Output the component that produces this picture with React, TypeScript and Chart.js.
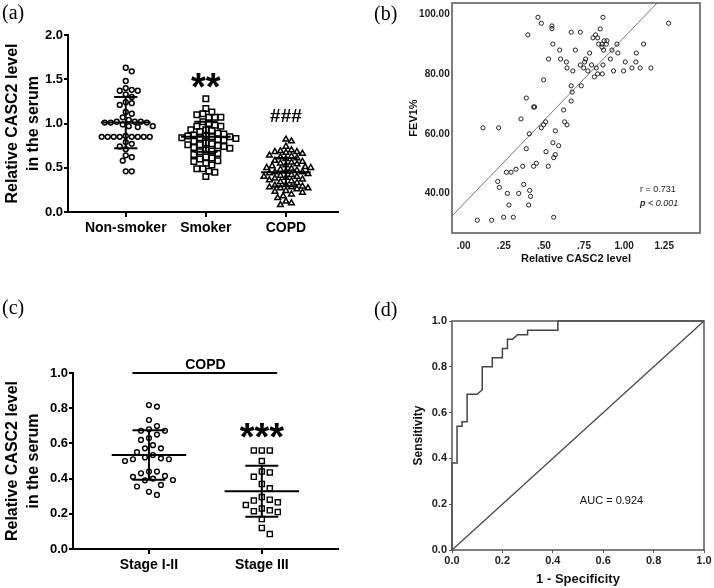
import React, { useEffect, useRef } from 'react';
import { Chart, registerables } from 'chart.js';
Chart.register(...registerables);

const FONT = '"Liberation Sans", Arial, Helvetica, sans-serif';

// ---------- Panel (a) ----------
const aCategories = ['Non-smoker', 'Smoker', 'COPD'];
const aNonSmoker = [1.63, 1.59, 1.48, 1.40, 1.37, 1.37, 1.38, 1.33, 1.30, 1.24, 1.23, 1.21, 1.13, 1.11, 1.07, 1.04, 1.02, 1.02, 1.01, 1.01, 1.01, 1.02, 0.99, 0.97, 0.96, 0.97, 0.86, 0.85, 0.85, 0.85, 0.85, 0.85, 0.85, 0.85, 0.85, 0.79, 0.77, 0.74, 0.71, 0.64, 0.62, 0.58, 0.46, 0.46];
const aSmoker = [1.28, 1.17, 1.13, 1.11, 1.10, 1.07, 1.07, 1.07, 1.02, 1.00, 0.98, 0.97, 0.97, 0.93, 0.93, 0.92, 0.91, 0.89, 0.88, 0.87, 0.86, 0.86, 0.85, 0.85, 0.84, 0.84, 0.83, 0.82, 0.81, 0.80, 0.78, 0.77, 0.76, 0.76, 0.75, 0.74, 0.73, 0.72, 0.70, 0.69, 0.68, 0.66, 0.65, 0.62, 0.61, 0.60, 0.58, 0.57, 0.55, 0.53, 0.49, 0.49, 0.46, 0.45, 0.40];
const aCOPD = [0.82, 0.80, 0.74, 0.70, 0.69, 0.68, 0.68, 0.67, 0.66, 0.64, 0.63, 0.62, 0.61, 0.60, 0.58, 0.57, 0.56, 0.55, 0.54, 0.53, 0.52, 0.51, 0.50, 0.50, 0.49, 0.48, 0.47, 0.46, 0.45, 0.45, 0.44, 0.43, 0.42, 0.41, 0.40, 0.40, 0.39, 0.38, 0.37, 0.36, 0.35, 0.34, 0.33, 0.31, 0.30, 0.29, 0.28, 0.28, 0.27, 0.27, 0.26, 0.24, 0.23, 0.22, 0.20, 0.18, 0.16, 0.12, 0.10, 0.08];
const aMeans = [1.01, 0.85, 0.45];
const aSDs = [0.29, 0.17, 0.16];
const aYTicks = [0, 0.5, 1.0, 1.5, 2.0];
const aMarks = ['', '**', '###'];
const aMarkValues = [0, 1.26, 1.02];

// ---------- Panel (b) ----------
const bCASC2 = [0.463,0.484,0.55,0.55,0.40,0.67,0.727,0.868,0.851,0.822,0.806,0.835,0.556,0.598,0.696,0.785,0.841,0.862,0.876,0.893,0.889,0.872,0.862,0.924,0.955,0.961,1.121,1.076,1.277,0.529,0.604,0.640,0.644,0.68,0.727,0.754,0.76,0.748,0.774,0.797,0.814,0.826,0.835,0.868,0.864,0.914,0.934,0.997,1.007,1.049,1.073,1.10,1.167,0.498,0.67,0.733,0.676,0.67,0.39,0.436,0.442,0.623,0.357,0.12,0.218,0.484,0.498,0.511,0.629,0.644,0.409,0.571,0.556,0.592,0.39,0.513,0.571,0.561,0.453,0.436,0.368,0.527,0.326,0.266,0.295,0.212,0.222,0.374,0.272,0.343,0.411,0.417,0.282,0.405,0.085,0.174,0.249,0.309,0.561];
const bFEV1 = [99.1,97.1,96.2,95.3,93.2,94.1,94.1,99.1,95.2,93.2,92.2,92.2,90.1,88.1,88.1,87.1,90.1,90.1,91.2,91.2,90.1,88.1,89.1,88.1,90.1,87.1,90.1,87.1,97.1,85.1,85.1,84.1,82.1,81.1,83.1,84.1,85.1,82.1,81.1,83.1,79.1,82.1,80.1,83.1,80.1,85.1,81.1,81.1,84.1,82.1,84.1,82.1,82.1,78.1,76.1,76.1,74.0,71.0,72.0,69.0,69.0,68.0,65.0,62.0,62.0,62.0,63.0,64.0,64.0,63.0,60.0,61.0,57.0,56.0,55.0,54.0,53.0,52.0,50.1,49.1,49.1,49.1,48.1,47.1,47.1,44.0,42.0,43.0,40.0,40.0,41.0,39.0,36.1,36.1,31.0,31.0,32.0,32.0,32.0];
const bXTicks = [0, 0.25, 0.5, 0.75, 1.0, 1.25];
const bXTickLabels = ['.00', '.25', '.50', '.75', '1.00', '1.25'];
const bYTicks = [40, 60, 80, 100];
const bYTickLabels = ['40.00', '60.00', '80.00', '100.00'];
const bFitIntercept = 36.5;
const bFitSlope = 55.9;
const bStatR = 'r = 0.731';
const bStatP = ['p', ' < 0.001'];

// ---------- Panel (c) ----------
const cCategories = ['Stage I-II', 'Stage III'];
const cStage12 = [0.818, 0.809, 0.733, 0.699, 0.68, 0.672, 0.672, 0.65, 0.63, 0.62, 0.59, 0.572, 0.572, 0.55, 0.534, 0.52, 0.515, 0.51, 0.51, 0.50, 0.44, 0.44, 0.43, 0.415, 0.41, 0.40, 0.392, 0.39, 0.364, 0.355, 0.325, 0.307];
const cStage3 = [0.56, 0.56, 0.56, 0.50, 0.44, 0.435, 0.41, 0.37, 0.345, 0.295, 0.28, 0.275, 0.265, 0.25, 0.23, 0.22, 0.215, 0.21, 0.17, 0.12, 0.085];
const cMeans = [0.534, 0.328];
const cSDs = [0.141, 0.145];
const cYTicks = [0, 0.2, 0.4, 0.6, 0.8, 1.0];

// ---------- Panel (d) ----------
const dFPR = [0, 0, 0.02, 0.02, 0.04, 0.04, 0.06, 0.06, 0.10, 0.12, 0.12, 0.16, 0.16, 0.20, 0.20, 0.22, 0.22, 0.24, 0.26, 0.30, 0.30, 0.42, 0.42, 1.0];
const dTPR = [0, 0.38, 0.38, 0.54, 0.54, 0.56, 0.56, 0.68, 0.68, 0.70, 0.80, 0.80, 0.84, 0.84, 0.88, 0.88, 0.92, 0.92, 0.94, 0.94, 0.96, 0.96, 1.0, 1.0];
const dTicks = [0, 0.2, 0.4, 0.6, 0.8, 1.0];
const dAUC = 'AUC = 0.924';

// beeswarm layout of dot positions (pixel spacing converted back to data units)
function beeswarm(values: number[], pxPerY: number, pxPerX: number, diameter: number): number[] {
  const idx = values.map((_, i) => i).sort((p, q) => values[q] - values[p]);
  const placed: { x: number; y: number }[] = [];
  const out = new Array(values.length).fill(0);
  for (const i of idx) {
    const y = values[i] * pxPerY;
    let chosen = 0;
    for (let s = 0; s < 400; s++) {
      const cand = s === 0 ? 0 : (s % 2 === 1 ? 1 : -1) * Math.ceil(s / 2) * diameter / 2;
      let ok = true;
      for (const p of placed) {
        const dx = p.x - cand, dy = p.y - y;
        if (dx * dx + dy * dy < diameter * diameter - 1e-6) { ok = false; break; }
      }
      if (ok) { chosen = cand; break; }
    }
    placed.push({ x: chosen, y });
    out[i] = chosen / pxPerX;
  }
  return out;
}

function dots(values: number[], cat: number, pxPerY: number, pxPerX: number, diameter: number) {
  const offs = beeswarm(values, pxPerY, pxPerX, diameter);
  return values.map((v, i) => ({ x: cat + offs[i], y: v }));
}

function dotSet(data: any[], style: string, radius: number, bw: number) {
  return {
    data,
    pointStyle: style,
    pointRadius: radius,
    pointBorderWidth: bw,
    pointBorderColor: '#000',
    pointBackgroundColor: 'rgba(0,0,0,0)',
    borderColor: '#000',
    backgroundColor: 'rgba(0,0,0,0)',
    showLine: false,
    clip: false,
  };
}

function meanSdPlugin(id: string, means: number[], sds: number[], halfMean: number, halfCap: number) {
  return {
    id,
    afterDatasetsDraw(chart: any) {
      const { ctx, scales } = chart;
      const x = scales.x, y = scales.y;
      ctx.save();
      ctx.strokeStyle = '#000';
      ctx.lineWidth = 2;
      const hl = (a: number, b: number, v: number) => {
        ctx.beginPath();
        ctx.moveTo(x.getPixelForValue(a), y.getPixelForValue(v));
        ctx.lineTo(x.getPixelForValue(b), y.getPixelForValue(v));
        ctx.stroke();
      };
      means.forEach((m, i) => {
        const c = i + 1;
        hl(c - halfMean, c + halfMean, m);
        hl(c - halfCap, c + halfCap, m + sds[i]);
        hl(c - halfCap, c + halfCap, m - sds[i]);
        ctx.beginPath();
        ctx.moveTo(x.getPixelForValue(c), y.getPixelForValue(m - sds[i]));
        ctx.lineTo(x.getPixelForValue(c), y.getPixelForValue(m + sds[i]));
        ctx.stroke();
      });
      ctx.restore();
    },
  };
}

type TextItem = { text: string; x: number; y: number; font: string; align?: CanvasTextAlign; color?: string };
function textPlugin(id: string, items: TextItem[]) {
  return {
    id,
    afterDraw(chart: any) {
      const { ctx, scales } = chart;
      ctx.save();
      items.forEach((t) => {
        ctx.font = t.font;
        ctx.fillStyle = t.color || '#000';
        ctx.textAlign = t.align || 'center';
        ctx.textBaseline = 'alphabetic';
        ctx.fillText(t.text, scales.x.getPixelForValue(t.x), scales.y.getPixelForValue(t.y));
      });
      ctx.restore();
    },
  };
}

function framePlugin(id: string, color: string, width: number) {
  return {
    id,
    afterDraw(chart: any) {
      const { ctx, chartArea: a } = chart;
      ctx.save();
      ctx.strokeStyle = color;
      ctx.lineWidth = width;
      ctx.strokeRect(a.left, a.top, a.right - a.left, a.bottom - a.top);
      ctx.restore();
    },
  };
}

const fixedTicks = (vals: number[]) => (s: any) => { s.ticks = vals.map((v) => ({ value: v })); };

function buildA(canvas: HTMLCanvasElement) {
  const pxX = 80, pxY = 88.65;
  return new Chart(canvas, {
    type: 'scatter',
    data: {
      datasets: [
        dotSet(dots(aNonSmoker, 1, pxY, pxX, 6), 'circle', 2.4, 1.5),
        dotSet(dots(aSmoker, 2, pxY, pxX, 6), 'rect', 3.9, 1.5),
        dotSet(dots(aCOPD, 3, pxY, pxX, 5.5), 'triangle', 3.3, 1.5),
      ] as any,
    },
    options: {
      animation: false,
      responsive: false,
      devicePixelRatio: 1,
      layout: { padding: { left: 0, top: 35, right: 19, bottom: 0 } },
      plugins: { legend: { display: false }, tooltip: { enabled: false } },
      scales: {
        x: {
          type: 'linear', min: 0.279, max: 3.65,
          afterFit: (s: any) => { s.height = 82; },
          afterBuildTicks: fixedTicks([1, 2, 3]),
          ticks: { callback: (_v: any, i: number) => aCategories[i], font: { family: FONT, size: 14, weight: 'bold' }, color: '#000', padding: 3, maxRotation: 0, autoSkip: false },
          grid: { display: true, drawOnChartArea: false, drawTicks: true, tickLength: 5, color: '#000', lineWidth: 2 },
          border: { display: true, color: '#000', width: 2 },
        },
        y: {
          type: 'linear', min: 0, max: 2,
          afterFit: (s: any) => { s.width = 68; },
          afterBuildTicks: fixedTicks(aYTicks),
          ticks: { callback: (v: any) => Number(v).toFixed(1), font: { family: FONT, size: 13, weight: 'bold' }, color: '#000', padding: 1 },
          grid: { display: true, drawOnChartArea: false, drawTicks: true, tickLength: 4, color: '#000', lineWidth: 2 },
          border: { display: true, color: '#000', width: 2 },
          title: { display: true, text: ['Relative CASC2 level', 'in the serum'], font: { family: FONT, size: 16, weight: 'bold', lineHeight: 1.3 }, color: '#000', padding: { top: 2, bottom: 0 } },
        },
      },
    } as any,
    plugins: [
      meanSdPlugin('msA', aMeans, aSDs, 0.31, 0.145),
      textPlugin('txA', aMarks.map((m, i) => ({ text: m, x: i + 1, y: aMarkValues[i], font: `bold ${m.startsWith('*') ? 38 : 19}px ${FONT}` })).filter((t) => t.text)),
    ],
  });
}

function buildB(canvas: HTMLCanvasElement) {
  const xmin = -0.073, xmax = 1.473;
  return new Chart(canvas, {
    type: 'scatter',
    data: {
      datasets: [
        {
          data: bCASC2.map((v, i) => ({ x: v, y: bFEV1[i] })),
          pointStyle: 'circle', pointRadius: 2.1, pointBorderWidth: 1, pointBorderColor: '#222', pointBackgroundColor: 'rgba(0,0,0,0)', showLine: false,
        },
        {
          data: [{ x: xmin, y: bFitIntercept + bFitSlope * xmin }, { x: xmax, y: bFitIntercept + bFitSlope * xmax }],
          showLine: true, pointRadius: 0, borderColor: '#777', borderWidth: 1,
        },
      ] as any,
    },
    options: {
      animation: false,
      responsive: false,
      devicePixelRatio: 1,
      layout: { padding: { left: 0, top: 23, right: 14, bottom: 0 } },
      plugins: { legend: { display: false }, tooltip: { enabled: false } },
      scales: {
        x: {
          type: 'linear', min: xmin, max: xmax,
          afterFit: (s: any) => { s.height = 61; },
          afterBuildTicks: fixedTicks(bXTicks),
          ticks: { callback: (_v: any, i: number) => bXTickLabels[i], font: { family: FONT, size: 10, weight: 'bold' }, color: '#222', padding: 7.7, maxRotation: 0, autoSkip: false },
          grid: { display: false, drawTicks: false },
          border: { display: false },
          title: { display: true, text: 'Relative CASC2 level', font: { family: FONT, size: 11, weight: 'bold' }, color: '#111', padding: { top: 0, bottom: 28 } },
        },
        y: {
          type: 'linear', min: 26.7, max: 103.9,
          afterFit: (s: any) => { s.width = 95; },
          afterBuildTicks: fixedTicks(bYTicks),
          ticks: { callback: (_v: any, i: number) => bYTickLabels[i], font: { family: FONT, size: 10, weight: 'bold' }, color: '#222', padding: 2.3 },
          grid: { display: false, drawTicks: false },
          border: { display: false },
          title: { display: true, text: 'FEV1%', font: { family: FONT, size: 11, weight: 'bold' }, color: '#111', padding: { top: 50.4, bottom: 0 } },
        },
      },
    } as any,
    plugins: [
      framePlugin('frB', '#555', 1.5),
      {
        id: 'statB',
        afterDraw(chart: any) {
          const { ctx, scales } = chart;
          const x0 = scales.x.getPixelForValue(1.099);
          ctx.save();
          ctx.fillStyle = '#222';
          ctx.textAlign = 'left';
          ctx.textBaseline = 'alphabetic';
          ctx.font = `9px ${FONT}`;
          ctx.fillText(bStatR, x0, scales.y.getPixelForValue(40.3));
          const yp = scales.y.getPixelForValue(35.6);
          ctx.font = `italic bold 9px ${FONT}`;
          ctx.fillText(bStatP[0], x0, yp);
          const w = ctx.measureText(bStatP[0]).width;
          ctx.font = `italic 9px ${FONT}`;
          ctx.fillText(bStatP[1], x0 + w, yp);
          ctx.restore();
        },
      },
    ],
  });
}

function buildC(canvas: HTMLCanvasElement) {
  const pxX = 113, pxY = 176;
  return new Chart(canvas, {
    type: 'scatter',
    data: {
      datasets: [
        dotSet(dots(cStage12, 1, pxY, pxX, 8), 'circle', 2.4, 1.4),
        dotSet(dots(cStage3, 2, pxY, pxX, 8), 'rect', 3.6, 1.4),
      ] as any,
    },
    options: {
      animation: false,
      responsive: false,
      devicePixelRatio: 1,
      layout: { padding: { left: 0, top: 79, right: 19, bottom: 0 } },
      plugins: { legend: { display: false }, tooltip: { enabled: false } },
      scales: {
        x: {
          type: 'linear', min: 0.327, max: 2.675,
          afterFit: (s: any) => { s.height = 39; },
          afterBuildTicks: fixedTicks([1, 2]),
          ticks: { callback: (_v: any, i: number) => cCategories[i], font: { family: FONT, size: 14, weight: 'bold' }, color: '#000', padding: 3, maxRotation: 0, autoSkip: false },
          grid: { display: true, drawOnChartArea: false, drawTicks: true, tickLength: 5, color: '#000', lineWidth: 2 },
          border: { display: true, color: '#000', width: 2 },
        },
        y: {
          type: 'linear', min: 0, max: 1,
          afterFit: (s: any) => { s.width = 73; },
          afterBuildTicks: fixedTicks(cYTicks),
          ticks: { callback: (v: any) => Number(v).toFixed(1), font: { family: FONT, size: 13, weight: 'bold' }, color: '#000', padding: 1 },
          grid: { display: true, drawOnChartArea: false, drawTicks: true, tickLength: 4, color: '#000', lineWidth: 2 },
          border: { display: true, color: '#000', width: 2 },
          title: { display: true, text: ['Relative CASC2 level', 'in the serum'], font: { family: FONT, size: 16, weight: 'bold', lineHeight: 1.3 }, color: '#000', padding: { top: 2, bottom: 0 } },
        },
      },
    } as any,
    plugins: [
      meanSdPlugin('msC', cMeans, cSDs, 0.33, 0.146),
      textPlugin('txC', [
        { text: '***', x: 2, y: 0.5625, font: `bold 38px ${FONT}` },
        { text: 'COPD', x: 1.5, y: 1.023, font: `bold 14px ${FONT}` },
      ]),
      {
        id: 'copdLine',
        afterDraw(chart: any) {
          const { ctx, scales } = chart;
          ctx.save();
          ctx.strokeStyle = '#000';
          ctx.lineWidth = 2;
          ctx.beginPath();
          ctx.moveTo(scales.x.getPixelForValue(0.853), scales.y.getPixelForValue(1.0));
          ctx.lineTo(scales.x.getPixelForValue(2.136), scales.y.getPixelForValue(1.0));
          ctx.stroke();
          ctx.restore();
        },
      },
    ],
  });
}

function buildD(canvas: HTMLCanvasElement) {
  return new Chart(canvas, {
    type: 'scatter',
    data: {
      datasets: [
        {
          data: dFPR.map((v, i) => ({ x: v, y: dTPR[i] })),
          showLine: true, pointRadius: 0, borderColor: '#444', borderWidth: 1.5, clip: false,
        },
        {
          data: [{ x: 0, y: 0 }, { x: 1, y: 1 }],
          showLine: true, pointRadius: 0, borderColor: '#444', borderWidth: 1.2, clip: false,
        },
      ] as any,
    },
    options: {
      animation: false,
      responsive: false,
      devicePixelRatio: 1,
      layout: { padding: { left: 0, top: 27, right: 10, bottom: 0 } },
      plugins: { legend: { display: false }, tooltip: { enabled: false } },
      scales: {
        x: {
          type: 'linear', min: 0, max: 1,
          afterFit: (s: any) => { s.height = 38; },
          afterBuildTicks: fixedTicks(dTicks),
          ticks: { callback: (v: any) => Number(v).toFixed(1), font: { family: FONT, size: 11, weight: 'bold' }, color: '#222', padding: 1, maxRotation: 0, autoSkip: false },
          grid: { display: true, drawOnChartArea: false, drawTicks: true, tickLength: 3, color: '#555', lineWidth: 1 },
          border: { display: false },
          title: { display: true, text: '1 - Specificity', font: { family: FONT, size: 13, weight: 'bold' }, color: '#111', padding: { top: 0, bottom: 1.2 } },
        },
        y: {
          type: 'linear', min: 0, max: 1,
          afterFit: (s: any) => { s.width = 95; },
          afterBuildTicks: fixedTicks(dTicks),
          ticks: { callback: (v: any) => Number(v).toFixed(1), font: { family: FONT, size: 11, weight: 'bold' }, color: '#222', padding: 2 },
          grid: { display: true, drawOnChartArea: false, drawTicks: true, tickLength: 3, color: '#555', lineWidth: 1 },
          border: { display: false },
          title: { display: true, text: 'Sensitivity', font: { family: FONT, size: 12, weight: 'bold' }, color: '#111', padding: { top: 54.5, bottom: 0 } },
        },
      },
    } as any,
    plugins: [
      framePlugin('frD', '#555', 1.5),
      textPlugin('txD', [{ text: dAUC, x: 0.633, y: 0.2, font: `11px ${FONT}`, color: '#111' }]),
    ],
  });
}

function Panel({ left, top, width, height, build }: { left: number; top: number; width: number; height: number; build: (c: HTMLCanvasElement) => Chart }) {
  const ref = useRef<HTMLCanvasElement | null>(null);
  useEffect(() => {
    if (!ref.current) return;
    const chart = build(ref.current);
    return () => chart.destroy();
  }, [build]);
  return (
    <div style={{ position: 'absolute', left, top, width, height }}>
      <canvas ref={ref} width={width} height={height} style={{ display: 'block', width, height }} />
    </div>
  );
}

const labelStyle = (left: number, top: number): React.CSSProperties => ({
  position: 'absolute', left, top, fontFamily: '"Liberation Serif", "Times New Roman", serif', fontSize: 20, lineHeight: '20px', color: '#000',
});

export default function App() {
  return (
    <div style={{ position: 'absolute', left: 0, top: 0, width: 714, height: 588, overflow: 'hidden', background: '#fff' }}>
      <Panel left={0} top={0} width={357} height={294} build={buildA} />
      <Panel left={357} top={-20} width={357} height={314} build={buildB} />
      <Panel left={0} top={294} width={357} height={294} build={buildC} />
      <Panel left={357} top={294} width={357} height={294} build={buildD} />
      <div style={labelStyle(2, 2)}>(a)</div>
      <div style={labelStyle(374, 3)}>(b)</div>
      <div style={labelStyle(2, 297)}>(c)</div>
      <div style={labelStyle(374, 299)}>(d)</div>
    </div>
  );
}
